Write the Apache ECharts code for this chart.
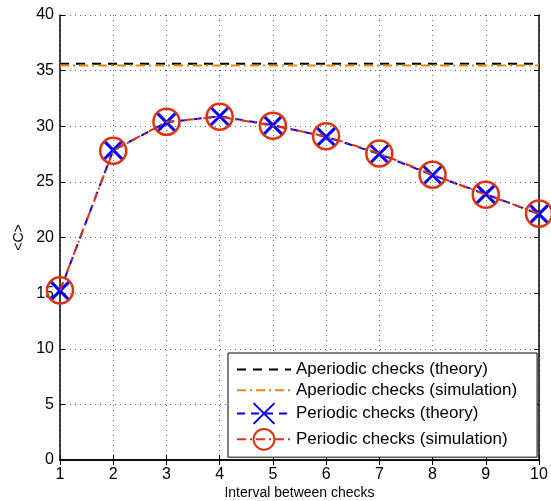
<!DOCTYPE html>
<html>
<head>
<meta charset="utf-8">
<script src="https://cdn.jsdelivr.net/npm/echarts@6/dist/echarts.min.js"></script>
<style>
  html, body { margin: 0; padding: 0; background: #fff; }
  #chart { width: 551px; height: 501px; }
</style>
</head>
<body>
<div id="chart"></div>
<script>
// interval between checks
const intervals = [1, 2, 3, 4, 5, 6, 7, 8, 9, 10]
const aperiodicTheory = [35.62, 35.62, 35.62, 35.62, 35.62, 35.62, 35.62, 35.62, 35.62, 35.62]
const aperiodicSim = [35.46, 35.46, 35.46, 35.46, 35.46, 35.46, 35.46, 35.46, 35.46, 35.46]
const periodicTheory = [15.2, 27.85, 30.35, 30.9, 30.1, 29.05, 27.5, 25.6, 23.9, 22.1]
const periodicSim = [15.25, 27.8, 30.4, 30.85, 30.05, 29.1, 27.55, 25.65, 23.85, 22.15]
const seriesNames = [
  'Aperiodic checks (theory)',
  'Aperiodic checks (simulation)',
  'Periodic checks (theory)',
  'Periodic checks (simulation)'
]

const pair = arr => intervals.map((x, i) => [x, arr[i]])
const font = 'Liberation Sans, Arial, sans-serif'
const crossPath = 'path://M0,0L10,10M10,0L0,10'

const chart = echarts.init(document.getElementById('chart'))
const gridLine = { show: true, lineStyle: { color: '#666', type: [1, 4], width: 1 } }
const option = {
  animation: false,
  backgroundColor: '#fff',
  textStyle: { fontFamily: font },
  grid: { left: 60, right: 12, top: 15, bottom: 41, outerBoundsMode: 'none', containLabel: false },
  legend: {
    orient: 'vertical',
    left: 228,
    top: 353,
    padding: [6, 20, 5, 8],
    itemGap: 0,
    itemWidth: 54,
    itemHeight: 26,
    backgroundColor: '#fff',
    borderColor: '#000',
    borderWidth: 1,
    textStyle: { fontSize: 17, color: '#000', fontFamily: font },
    data: [
      { name: seriesNames[0], itemStyle: { opacity: 0 } },
      { name: seriesNames[1], itemStyle: { opacity: 0 } },
      { name: seriesNames[2] },
      { name: seriesNames[3] }
    ]
  },
  xAxis: [{
    type: 'value',
    min: 1,
    max: 10,
    interval: 1,
    name: 'Interval between checks',
    nameLocation: 'middle',
    nameGap: 26,
    nameMoveOverlap: false,
    nameTextStyle: { fontSize: 14, color: '#000' },
    axisLine: { lineStyle: { color: '#000', width: 1.5 } },
    axisTick: { inside: true, length: 5, lineStyle: { color: '#000' } },
    axisLabel: { fontSize: 16, color: '#000', margin: 7 },
    splitLine: gridLine
  }, {
    type: 'value',
    position: 'top',
    min: 1,
    max: 10,
    interval: 1,
    axisLine: { show: true, lineStyle: { color: '#000', width: 1.5 } },
    axisTick: { show: true, inside: true, length: 5, lineStyle: { color: '#000' } },
    axisLabel: { show: false },
    splitLine: { show: false }
  }],
  yAxis: [{
    type: 'value',
    min: 0,
    max: 40,
    interval: 5,
    name: '<C>',
    nameLocation: 'middle',
    nameGap: 34,
    nameMoveOverlap: false,
    nameTextStyle: { fontSize: 14, color: '#000' },
    axisLine: { show: true, lineStyle: { color: '#000', width: 1.5 } },
    axisTick: { show: true, inside: true, length: 5, lineStyle: { color: '#000' } },
    axisLabel: { fontSize: 16, color: '#000', margin: 6 },
    splitLine: gridLine
  }, {
    type: 'value',
    position: 'right',
    min: 0,
    max: 40,
    interval: 5,
    axisLine: { show: true, lineStyle: { color: '#000', width: 1.5 } },
    axisTick: { show: true, inside: true, length: 5, lineStyle: { color: '#000' } },
    axisLabel: { show: false },
    splitLine: { show: false }
  }],
  series: [
    {
      name: seriesNames[0],
      type: 'line',
      data: pair(aperiodicTheory),
      symbol: 'none',
      color: '#000',
      lineStyle: { color: '#000', width: 2, type: [9, 7] },
      z: 2
    },
    {
      name: seriesNames[1],
      type: 'line',
      data: pair(aperiodicSim),
      symbol: 'none',
      color: '#e8870f',
      lineStyle: { color: '#e8870f', width: 2, type: [9, 4, 2, 4] },
      z: 3
    },
    {
      name: seriesNames[2],
      type: 'line',
      data: pair(periodicTheory),
      symbol: crossPath,
      symbolSize: 18,
      color: '#0000ff',
      itemStyle: { color: 'none', borderColor: '#0000ff', borderWidth: 3 },
      lineStyle: { color: '#0000ff', width: 2, type: [8, 6] },
      z: 4
    },
    {
      name: seriesNames[3],
      type: 'line',
      data: pair(periodicSim),
      symbol: 'circle',
      symbolSize: 26,
      color: '#dd3311',
      itemStyle: { color: 'none', borderColor: '#dd3311', borderWidth: 2.5 },
      lineStyle: { color: '#dd3311', width: 2, type: [9, 4, 2, 4] },
      z: 5
    }
  ]
}
chart.setOption(option)
</script>
</body>
</html>
